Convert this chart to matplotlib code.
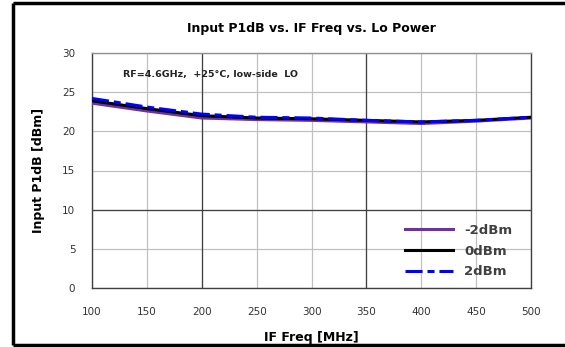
import matplotlib
matplotlib.use("Agg")
import matplotlib.pyplot as plt
from matplotlib.lines import Line2D

# IF frequency (MHz) and input P1dB (dBm) per LO power
if_freq = [100, 150, 200, 250, 300, 350, 400, 450, 500]
p1db_m2 = [23.6, 22.6, 21.7, 21.5, 21.4, 21.2, 21.0, 21.3, 21.7]
p1db_0 = [23.9, 22.9, 22.0, 21.7, 21.6, 21.4, 21.2, 21.4, 21.8]
p1db_p2 = [24.2, 23.1, 22.2, 21.8, 21.7, 21.4, 21.2, 21.4, 21.8]
labels = ['-2dBm', '0dBm', '2dBm']

fig = plt.figure(figsize=(5.65, 3.47), dpi=100)
ax = fig.add_axes([92/565, 1 - 288/347, (531-92)/565, (288-53)/347])

ax.plot(if_freq, p1db_m2, color='#7030A0', lw=2.2, label=labels[0], zorder=3)
ax.plot(if_freq, p1db_0, color='black', lw=2.2, label=labels[1], zorder=3)
ax.plot(if_freq, p1db_p2, color='#0000FF', lw=2.2, dashes=(5.6, 1.6, 2.3, 1.6), label=labels[2], zorder=3)

ax.set_xlim(100, 500)
ax.set_ylim(0, 30)
ax.set_xticks(range(100, 501, 50))
ax.set_yticks(range(0, 31, 5))
ax.grid(True, color='#c0c0c0', lw=0.9)
ax.set_axisbelow(True)
# darker grid lines as in the original
for xv in (200, 350):
    ax.axvline(xv, color='#404040', lw=0.9, zorder=1.5)
ax.axhline(10, color='#404040', lw=0.9, zorder=1.5)

for s in ax.spines.values():
    s.set_color('#404040')
    s.set_linewidth(1.0)
ax.spines['top'].set_color('#909090')

ax.tick_params(length=0, labelsize=7.5, colors='#333333')
ax.tick_params(axis='x', pad=14)
ax.tick_params(axis='y', pad=12)

ax.set_xlabel('IF Freq [MHz]', fontsize=9, fontweight='bold', labelpad=10)
ax.set_ylabel('Input P1dB [dBm]', fontsize=9, fontweight='bold', labelpad=12)
ax.set_title('Input P1dB vs. IF Freq vs. Lo Power', fontsize=9, fontweight='bold', pad=15)

ax.text(128, 27.3, 'RF=4.6GHz,  +25\u00b0C, low-side  LO', fontsize=6.8,
        fontweight='bold', color='#222222', va='center')

leg = ax.legend(loc='lower right', frameon=False, fontsize=9.5, handlelength=3.6,
                handletextpad=0.9, labelspacing=0.6, bbox_to_anchor=(0.985, -0.01))
for t in leg.get_texts():
    t.set_fontweight('bold')
    t.set_color('#404040')

# outer frame (left, top, bottom)
kw = dict(transform=fig.transFigure, color='black', lw=2.5, solid_capstyle='butt')
fig.add_artist(Line2D([13/565, 13/565], [2/347, 1 - 3/347], **kw))
fig.add_artist(Line2D([13/565, 1], [1 - 3/347, 1 - 3/347], **kw))
fig.add_artist(Line2D([13/565, 1], [2/347, 2/347], **kw))

fig.savefig('out.png', dpi=100)
